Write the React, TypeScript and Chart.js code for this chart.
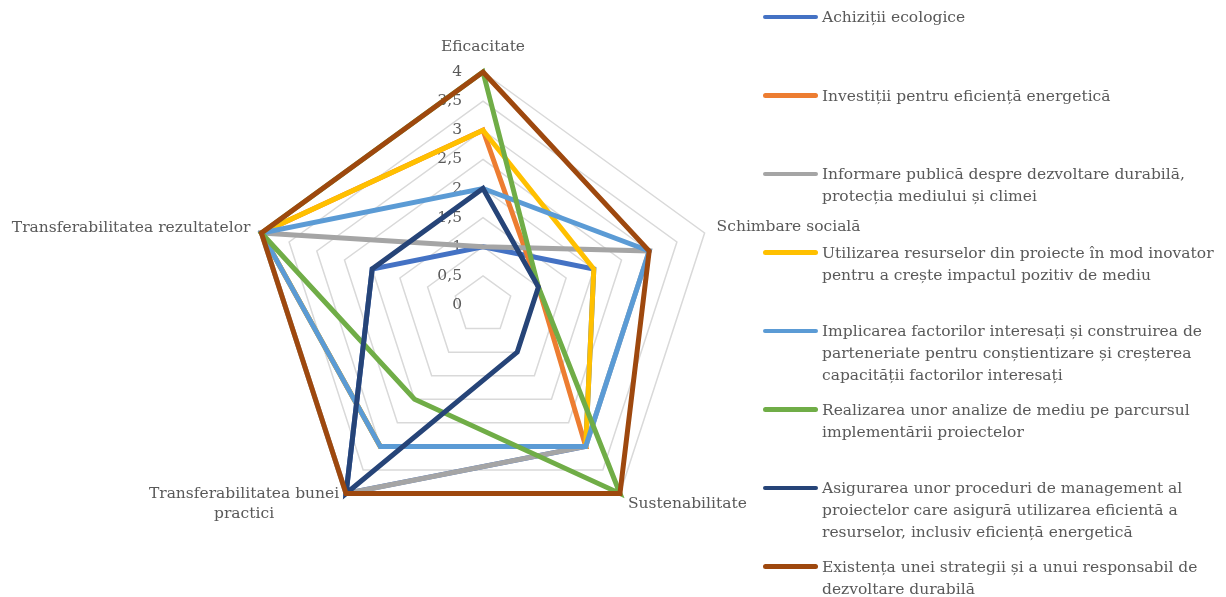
import React, { useEffect, useRef } from "react";
import { Chart, registerables } from "chart.js";

Chart.register(...registerables);

// ---- data ----
const categories: (string | string[])[] = [
  "Eficacitate",
  "Schimbare socială",
  "Sustenabilitate",
  ["Transferabilitatea bunei", "practici"],
  "Transferabilitatea rezultatelor",
];

const tickLabels = ["0", "0,5", "1", "1,5", "2", "2,5", "3", "3,5", "4"];

const seriesNames: string[][] = [
  ["Achiziții ecologice"],
  ["Investiții pentru eficiență energetică"],
  ["Informare publică despre dezvoltare durabilă,", "protecția mediului și climei"],
  ["Utilizarea resurselor din proiecte în mod inovator", "pentru a crește impactul pozitiv de mediu"],
  ["Implicarea factorilor interesați și construirea de", "parteneriate pentru conștientizare și creșterea", "capacității factorilor interesați"],
  ["Realizarea unor analize de mediu pe parcursul", "implementării proiectelor"],
  ["Asigurarea unor proceduri de management al", "proiectelor care asigură utilizarea eficientă a", "resurselor, inclusiv eficiență energetică"],
  ["Existența unei strategii și a unui responsabil de", "dezvoltare durabilă"],
];

const achizitii = [1, 2, 3, 4, 2];
const investitii = [3, 1, 3, 3, 4];
const informare = [1, 3, 3, 4, 4];
const utilizarea = [3, 2, 3, 3, 4];
const implicarea = [2, 3, 3, 3, 4];
const realizarea = [4, 1, 4, 2, 4];
const asigurarea = [2, 1, 1, 4, 2];
const existenta = [4, 3, 4, 4, 4];

const seriesValues = [achizitii, investitii, informare, utilizarea, implicarea, realizarea, asigurarea, existenta];

const colors = ["#4472C4", "#ED7D31", "#A5A5A5", "#FFC000", "#5B9BD5", "#70AD47", "#264478", "#9E480E"];

const FONT_FAMILY = '"DejaVu Serif", serif';
const FONT_SIZE = 15.5;
const TEXT_COLOR = "#595959";

const labelsPlugin = {
  id: "customLabels",
  beforeDatasetsDraw(chart: any) {
    const scale = chart.scales.r;
    const ctx = chart.ctx as CanvasRenderingContext2D;
    ctx.save();
    ctx.font = `${FONT_SIZE}px ${FONT_FAMILY}`;
    ctx.fillStyle = TEXT_COLOR;
    ctx.textAlign = "right";
    ctx.textBaseline = "middle";
    scale.ticks.forEach((t: any) => {
      const d = scale.getDistanceFromCenterForValue(t.value);
      ctx.fillText(t.label, scale.xCenter - 21, scale.yCenter - d);
    });
    ctx.restore();
  },
  afterDraw(chart: any) {
    const scale = chart.scales.r;
    const ctx = chart.ctx as CanvasRenderingContext2D;
    const labels = chart.data.labels as (string | string[])[];
    const place: { dx: number; dy: number; align: CanvasTextAlign }[] = [
      { dx: 0, dy: -25, align: "center" },
      { dx: 12, dy: -6, align: "left" },
      { dx: 8, dy: 10, align: "left" },
      { dx: -102, dy: 0, align: "center" },
      { dx: -11, dy: -5, align: "right" },
    ];
    ctx.save();
    ctx.font = `${FONT_SIZE}px ${FONT_FAMILY}`;
    ctx.fillStyle = TEXT_COLOR;
    ctx.textBaseline = "middle";
    labels.forEach((lab, i) => {
      const p = scale.getPointPosition(i, scale.drawingArea);
      const pl = place[i];
      ctx.textAlign = pl.align;
      const lines = Array.isArray(lab) ? lab : [lab];
      lines.forEach((ln, j) => {
        ctx.fillText(ln, p.x + pl.dx, p.y + pl.dy + j * 20);
      });
    });
    ctx.restore();
  },
};

export default function App() {
  const canvasRef = useRef<HTMLCanvasElement | null>(null);

  useEffect(() => {
    if (!canvasRef.current) return;
    const n = seriesValues.length;
    const chart = new Chart(canvasRef.current, {
      type: "radar",
      data: {
        labels: categories as any,
        datasets: seriesValues.map((vals, i) => ({
          label: seriesNames[i].join(" "),
          data: vals,
          borderColor: colors[i],
          backgroundColor: colors[i],
          borderWidth: 5,
          pointRadius: 0,
          pointHoverRadius: 0,
          fill: false,
          tension: 0,
          borderJoinStyle: "miter" as const,
          order: n - i,
        })),
      },
      options: {
        responsive: false,
        animation: false,
        layout: { padding: { left: 250, top: 72, right: 510, bottom: 59 } },
        plugins: {
          legend: { display: false },
          tooltip: { enabled: false },
        },
        scales: {
          r: {
            min: 0,
            max: 4,
            beginAtZero: true,
            ticks: {
              stepSize: 0.5,
              display: false,
              showLabelBackdrop: false,
              callback: (_v: any, i: number) => tickLabels[i],
            },
            grid: { color: "#D9D9D9", lineWidth: 1.5 },
            angleLines: { display: false },
            pointLabels: { display: false },
          },
        },
      },
      plugins: [labelsPlugin],
    });
    return () => chart.destroy();
  }, []);

  return (
    <div
      style={{
        position: "absolute",
        left: 0,
        top: 0,
        width: 1226,
        height: 597,
        background: "#ffffff",
        overflow: "hidden",
      }}
    >
      <canvas
        ref={canvasRef}
        width={1226}
        height={597}
        style={{ position: "absolute", left: 0, top: 0, width: 1226, height: 597 }}
      />
      {seriesNames.map((name, i) => (
        <div
          key={i}
          style={{ position: "absolute", left: 763, top: 6 + i * 78.5, display: "flex", alignItems: "flex-start" }}
        >
          <div
            style={{
              width: 55,
              height: 4.5,
              borderRadius: 3,
              background: colors[i],
              marginTop: 8.75,
              flex: "none",
            }}
          />
          <div
            style={{
              marginLeft: 4,
              fontFamily: FONT_FAMILY,
              fontSize: FONT_SIZE,
              lineHeight: "22px",
              color: TEXT_COLOR,
              whiteSpace: "nowrap",
            }}
          >
            {name.map((ln, j) => (
              <div key={j}>{ln}</div>
            ))}
          </div>
        </div>
      ))}
    </div>
  );
}
